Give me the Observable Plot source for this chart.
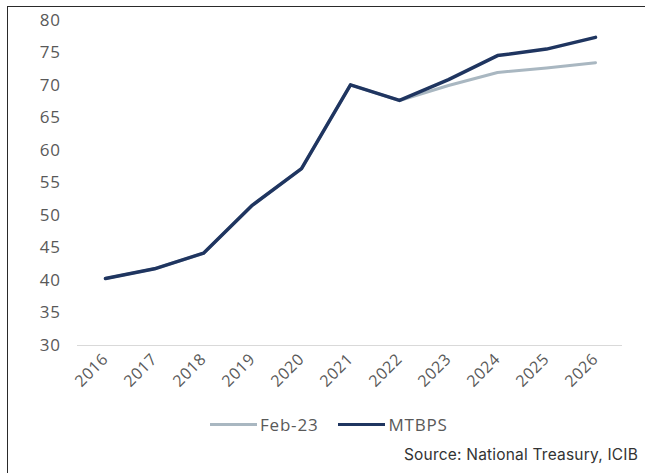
<!DOCTYPE html>
<html>
<head>
<meta charset="utf-8">
<script src="https://cdn.jsdelivr.net/npm/d3@7"></script>
<script src="https://cdn.jsdelivr.net/npm/@observablehq/plot@0.6"></script>
<style>
  html, body { margin: 0; padding: 0; background: #fff; }
  #wrap { position: relative; width: 645px; height: 473px; overflow: hidden; }
  #frame { position: absolute; left: 7px; top: 6px; width: 660px; height: 480px;
           border-left: 1.5px solid #2a2a2a; border-top: 1.5px solid #2a2a2a; }
  #chart { position: absolute; left: 0; top: 0; }
  #chart svg text { letter-spacing: 0.6px; }
  #legend { position: absolute; top: 413px; left: 210px; display: flex; align-items: center;
            font-family: "Open Sans", sans-serif; font-size: 17px; letter-spacing: 0.8px; color: #595959; }
  .item { display: flex; align-items: center; margin-right: 20px; }
  .sw { display: inline-block; width: 47px; height: 0; margin-right: 3px; }
  #source { position: absolute; right: 7px; top: 445px; font-family: Inter, Roboto, sans-serif;
            font-size: 15.5px; letter-spacing: 0.2px; color: #333; }
</style>
</head>
<body>
<div id="wrap">
  <div id="frame"></div>
  <div id="chart"></div>
  <div id="legend"></div>
  <div id="source">Source: National Treasury, ICIB</div>
</div>
<script>
const years = ["2016","2017","2018","2019","2020","2021","2022","2023","2024","2025","2026"];
const feb23 = [40.3, 41.8, 44.2, 51.6, 57.2, 70.1, 67.7, 70.0, 72.0, 72.7, 73.5];
const mtbps = [40.3, 41.8, 44.2, 51.6, 57.2, 70.1, 67.7, 70.9, 74.6, 75.6, 77.4];
const yTicks = [30, 35, 40, 45, 50, 55, 60, 65, 70, 75, 80];
const seriesNames = ["Feb-23", "MTBPS"];
const seriesColors = ["#a9b7c1", "#1f3560"];
const seriesWidths = [3, 3.5];

const rows = [];
years.forEach((y, i) => {
  rows.push({year: y, value: feb23[i], series: seriesNames[0]});
});
years.forEach((y, i) => {
  rows.push({year: y, value: mtbps[i], series: seriesNames[1]});
});

const chart = Plot.plot({
  width: 645,
  height: 400,
  marginLeft: 77,
  marginRight: 23,
  marginTop: 20,
  marginBottom: 55,
  style: { fontFamily: "'Open Sans', sans-serif", color: "#595959", background: "transparent" },
  x: { type: "point", domain: years, padding: 0.5, label: null },
  y: { domain: [30, 80], label: null },
  marks: [
    Plot.ruleY([30], { stroke: "#d9d9d9", strokeWidth: 1.2 }),
    Plot.axisY({ ticks: yTicks, tickSize: 0, tickPadding: 17, fontSize: 17, fill: "#595959", label: null }),
    Plot.axisX({ tickSize: 0, tickRotate: -45, tickPadding: 11, fontSize: 16, fill: "#595959", label: null }),
    Plot.line(rows.filter(d => d.series === seriesNames[0]), {
      x: "year", y: "value", stroke: seriesColors[0], strokeWidth: seriesWidths[0], curve: "linear"
    }),
    Plot.line(rows.filter(d => d.series === seriesNames[1]), {
      x: "year", y: "value", stroke: seriesColors[1], strokeWidth: seriesWidths[1], curve: "linear"
    })
  ]
});
document.getElementById("chart").appendChild(chart);

const legend = document.getElementById("legend");
seriesNames.forEach((n, i) => {
  const it = document.createElement("div");
  it.className = "item";
  const sw = document.createElement("span");
  sw.className = "sw";
  sw.style.borderTop = `${seriesWidths[i]}px solid ${seriesColors[i]}`;
  it.appendChild(sw);
  const t = document.createElement("span");
  t.textContent = n;
  it.appendChild(t);
  legend.appendChild(it);
});
</script>
</body>
</html>
